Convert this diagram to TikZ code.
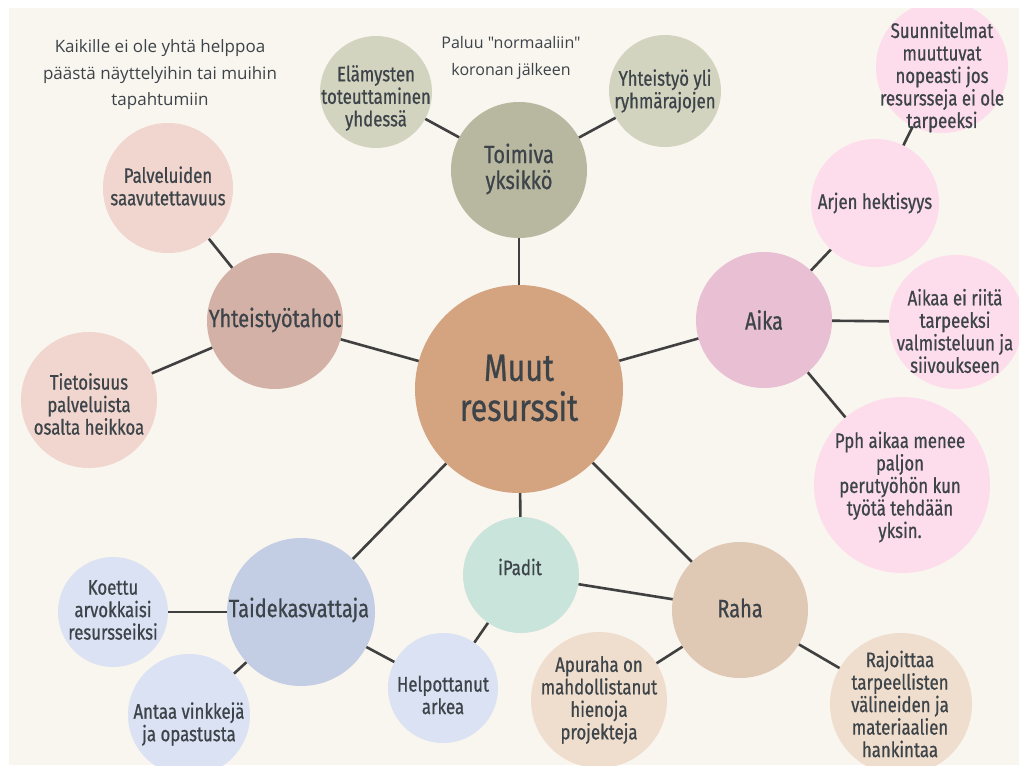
\documentclass[tikz,border=0pt]{standalone}
\usepackage{fontspec}
\setmainfont{Fira Sans}[FakeStretch=0.8,FakeBold=0.7]
\newfontfamily\handfont{Open Sans}
\definecolor{bg}{HTML}{F9F5EF}
\definecolor{txt}{HTML}{3D4449}
\definecolor{lin}{HTML}{404040}
\definecolor{cen}{HTML}{D4A37F}
\definecolor{toim}{HTML}{B8B7A0}
\definecolor{oliv}{HTML}{D3D4BF}
\definecolor{pinkl}{HTML}{F0D6CE}
\definecolor{ytah}{HTML}{D4B1A7}
\definecolor{aikac}{HTML}{E8BFD3}
\definecolor{pinkv}{HTML}{FDDDEC}
\definecolor{ipadc}{HTML}{C9E4DA}
\definecolor{rahac}{HTML}{DFC8B4}
\definecolor{tanl}{HTML}{EFDECD}
\definecolor{taidec}{HTML}{C3CDE4}
\definecolor{bluel}{HTML}{DBE2F3}
% #1 name, #2 centre, #3 radius, #4 fill, #5 text position, #6 text style, #7 text
\newcommand\mkbub[7]{%
  \node[bubc, minimum size={2*#3pt}, fill=#4] (#1) at (#2) {};
  \node[bubt, #6] (#1-t) at (#5) {#7};}
\begin{document}
\begin{tikzpicture}[x=1pt,y=-1pt,
  bubc/.style={circle, inner sep=0pt},
  bubt/.style={inner sep=0pt, align=center, text=txt, font=\fontsize{21}{22.5}\selectfont},
  mid/.style={font=\fontsize{25}{26}\selectfont},
  big/.style={font=\fontsize{38}{40}\selectfont},
  conn/.style={draw=lin, line width=2.6pt},
  hand/.style={align=center, text=txt, font=\handfont\fontsize{17}{26.5}\selectfont}]
\useasboundingbox (0,0) rectangle (1019,766);
\fill[white] (0,0) rectangle (1019,766);
\begin{scope}
\clip (9,8) rectangle (1019,765);
\fill[bg] (9,8) rectangle (1019,765);
% bubbles
\mkbub{cen}{519,389}{104}{cen}{519,388}{big}{Muut\\resurssit}
\mkbub{toim}{519,170}{68}{toim}{519,169}{mid}{Toimiva\\yksikkö}
\mkbub{elam}{376,92}{56}{oliv}{376,98}{}{Elämysten\\toteuttaminen\\yhdessä}
\mkbub{yhtyli}{665,91}{56}{oliv}{665,91}{}{Yhteistyö yli\\ryhmärajojen}
\mkbub{palv}{168,188}{65}{pinkl}{168,186}{}{Palveluiden\\saavutettavuus}
\mkbub{ytaho}{275,321}{68}{ytah}{275,320}{mid}{Yhteistyötahot}
\mkbub{tieto}{89,400}{68}{pinkl}{89,404}{}{Tietoisuus\\palveluista\\osalta heikkoa}
\mkbub{aika}{764,320}{68}{aikac}{764,320}{mid}{Aika}
\mkbub{arjen}{875,203}{64}{pinkv}{875,203}{}{Arjen hektisyys}
\mkbub{suunn}{942,67}{66}{pinkv}{942,77}{}{Suunnitelmat\\muuttuvat\\nopeasti jos\\resursseja ei ole\\tarpeeksi}
\mkbub{aikaa}{956,322}{67}{pinkv}{955,331}{}{Aikaa ei riitä\\tarpeeksi\\valmisteluun ja\\siivoukseen}
\mkbub{pph}{902,485}{88}{pinkv}{900,487}{}{Pph aikaa menee\\paljon\\perutyöhön kun\\työtä tehdään\\yksin.}
\mkbub{ipad}{521,575}{58}{ipadc}{520,567}{}{iPadit}
\mkbub{raha}{740,610}{68}{rahac}{740,608}{mid}{Raha}
\mkbub{help}{443,688}{55}{bluel}{443,695}{}{Helpottanut\\arkea}
\mkbub{apur}{599,700}{68}{tanl}{599,700}{}{Apuraha on\\mahdollistanut\\hienoja\\projekteja}
\mkbub{rajo}{901,704}{71}{tanl}{900,704}{}{Rajoittaa\\tarpeellisten\\välineiden ja\\materiaalien\\hankintaa}
\mkbub{taide}{301,612}{74}{taidec}{299,610}{mid}{Taidekasvattaja}
\mkbub{koet}{113,612}{55}{bluel}{113,610}{}{Koettu\\arvokkaisi\\resursseiksi}
\mkbub{antaa}{189,715}{61}{bluel}{189,724}{}{Antaa vinkkejä\\ja opastusta}
% handwritten notes
\node[hand] (note1) at (160,75) {Kaikille ei ole yhtä helppoa\\päästä näyttelyihin tai muihin\\tapahtumiin};
\node[hand, font=\handfont\fontsize{16}{27}\selectfont] (note2) at (511,58) {Paluu "normaaliin"\\koronan jälkeen};
% connectors
\draw[conn] (cen) -- (toim);
\draw[conn] (cen) -- (ytaho);
\draw[conn] (cen) -- (aika);
\draw[conn] (cen) -- (taide);
\draw[conn] (cen) -- (raha);
\draw[conn] (cen) -- (ipad);
\draw[conn] (toim) -- (elam);
\draw[conn] (toim) -- (yhtyli);
\draw[conn] (ytaho) -- (palv);
\draw[conn] (ytaho) -- (tieto);
\draw[conn] (aika) -- (arjen);
\draw[conn] (arjen) -- (suunn);
\draw[conn] (aika) -- (aikaa);
\draw[conn] (aika) -- (pph);
\draw[conn] (ipad) -- (raha);
\draw[conn] (ipad) -- (help);
\draw[conn] (raha) -- (apur);
\draw[conn] (raha) -- (rajo);
\draw[conn] (taide) -- (koet);
\draw[conn] (taide) -- (antaa);
\draw[conn] (taide) -- (help);
\end{scope}
\end{tikzpicture}
\end{document}
